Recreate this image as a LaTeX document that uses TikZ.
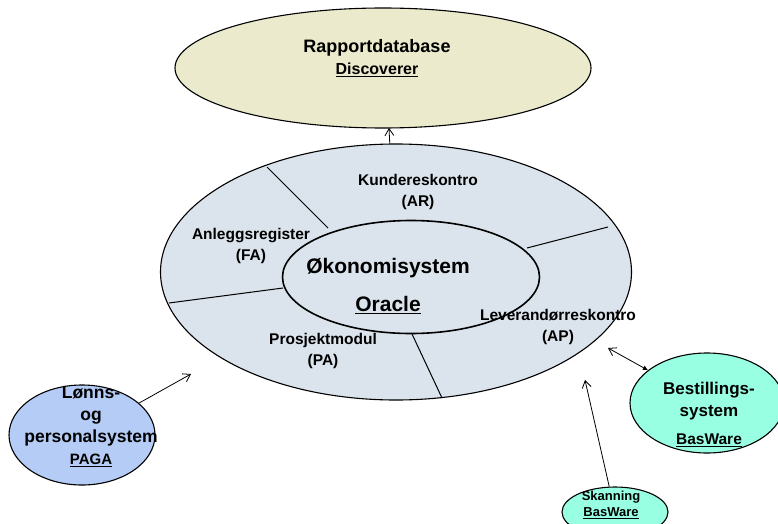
\documentclass[tikz,border=0pt]{standalone}
\usepackage{fontspec}
\setmainfont{Liberation Sans}
\usetikzlibrary{arrows.meta,shapes.geometric}
\definecolor{rapfill}{RGB}{235,234,204}
\definecolor{ringfill}{RGB}{219,228,236}
\definecolor{pagafill}{RGB}{180,204,246}
\definecolor{basfill}{RGB}{153,255,227}

\begin{document}
\begin{tikzpicture}[x=1pt,y=-1pt,
  sys/.style={draw, ellipse, inner sep=0pt, line width=1.1pt},
  ringlbl/.style={font=\fontsize{15.5}{21}\selectfont\bfseries, align=center, inner sep=0pt},
  arr/.style={-{Straight Barb[length=7pt,width=9pt]}, line width=0.8pt}]
  \useasboundingbox (0,0) rectangle (778,524);

  % Report database
  \node[sys, fill=rapfill, minimum width=416, minimum height=120] (rap) at (383,68) {};
  \node[font=\fontsize{18}{21}\selectfont\bfseries] (raptitle) at (377,48) {Rapportdatabase};
  \node[font=\fontsize{16}{19}\selectfont\bfseries] (rapsub) at (377,70) {\underline{Discoverer}};

  % Economy system ring
  \node[sys, fill=ringfill, minimum width=471, minimum height=256] (ring) at (396,272) {};
  \draw[line width=1pt] (328,228) -- (267,167);
  \draw[line width=1pt] (527,248) -- (608,227);
  \draw[line width=1pt] (283,288) -- (169,303);
  \draw[line width=1pt] (412,334) -- (442,398);
  \node[sys, line width=1.6pt, minimum width=257, minimum height=113] (oko) at (411,277) {};
  \node[font=\fontsize{21}{25}\selectfont\bfseries] (okotitle) at (388,268) {Økonomisystem};
  \node[font=\fontsize{21}{25}\selectfont\bfseries] (okosub) at (388,305) {\underline{Oracle}};

  % Modules
  \node[ringlbl] (ar) at (418,192) {Kundereskontro\\(AR)};
  \node[ringlbl] (fa) at (251,246) {Anleggsregister\\(FA)};
  \node[ringlbl] (pa) at (323,351) {Prosjektmodul\\(PA)};
  \node[ringlbl] (ap) at (558,327) {Leverandørreskontro\\(AP)};

  % Payroll
  \node[sys, fill=pagafill, minimum width=146, minimum height=100] (paga) at (82,435) {};
  \node[font=\fontsize{17.5}{22}\selectfont\bfseries, align=center, inner sep=0pt] (pagatxt) at (91,427)
    {Lønns-\\og\\personalsystem\\{\fontsize{15}{18}\selectfont\underline{PAGA}}};

  % Ordering
  \node[sys, fill=basfill, minimum width=154, minimum height=100] (best) at (707,403) {};
  \node[font=\fontsize{17}{21.5}\selectfont\bfseries, align=center, inner sep=0pt] (besttxt) at (709,401) {Bestillings-\\system};
  \node[font=\fontsize{15.5}{18}\selectfont\bfseries] (bestsub) at (709,440) {\underline{BasWare}};

  % Scanning
  \node[sys, fill=basfill, minimum width=106, minimum height=50] (skan) at (615,512) {};
  \node[font=\fontsize{13}{16}\selectfont\bfseries, align=center, inner sep=0pt] (skantxt) at (611,505)
    {Skanning\\\underline{BasWare}};

  % Arrows
  \coordinate (rapin) at (389,128);
  \coordinate (pagain) at (191,374);
  \coordinate (bestin) at (608,348);
  \coordinate (skanin) at (585,380);
  \draw[arr] (ring) -- (rapin);
  \draw[arr] (paga) -- (pagain);
  \draw[line width=0.8pt, {Latex[length=5pt,width=5pt]}-{Straight Barb[length=7pt,width=9pt]}] (best) -- (bestin);
  \draw[arr] (skan) -- (skanin);
\end{tikzpicture}
\end{document}
